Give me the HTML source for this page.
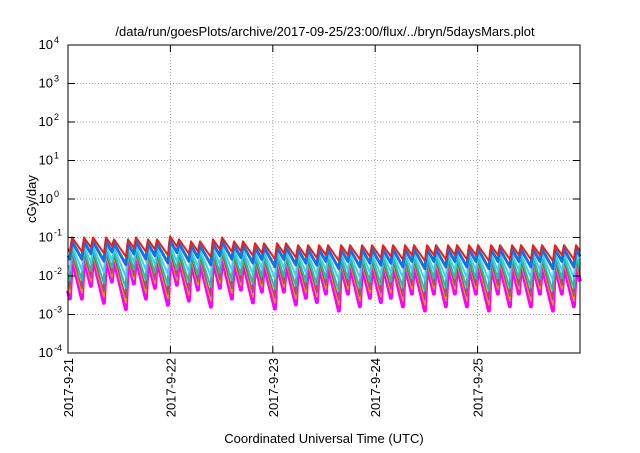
<!DOCTYPE html>
<html><head><meta charset="utf-8"><style>
body{margin:0;background:#fff}
svg{font-family:"Liberation Sans",sans-serif}
</style></head><body>
<svg id="c" width="640" height="448" viewBox="0 0 640 448" xmlns="http://www.w3.org/2000/svg">
<rect width="640" height="448" fill="#fff"/>
<text x="325" y="36" font-size="13" text-anchor="middle">/data/run/goesPlots/archive/2017-09-25/23:00/flux/../bryn/5daysMars.plot</text>
<text transform="translate(36,199) rotate(-90)" font-size="13" text-anchor="middle">cGy/day</text>
<text x="324" y="443" font-size="13" text-anchor="middle">Coordinated Universal Time (UTC)</text>
<g id="grid"></g><g id="series"></g><g id="axes"></g>
</svg>
<script>
const peakX = [72,84,93,106,114,128,136,148,157,170,179,191,200,213,222,234,243,255,264,277,286,298,308,319,328,341,350,362,372,383,393,405,414,427,436,448,457,469,478,491,500,512,521,533,542,555,564,576];
const peakLevel = [-1.0,-1.0,-1.0,-1.0,-1.05,-1.05,-1.0,-1.05,-1.05,-0.97,-1.05,-1.1,-1.1,-1.05,-1.0,-1.1,-1.1,-1.15,-1.15,-1.15,-1.15,-1.2,-1.2,-1.2,-1.2,-1.2,-1.2,-1.2,-1.2,-1.2,-1.2,-1.2,-1.2,-1.2,-1.2,-1.2,-1.2,-1.2,-1.2,-1.2,-1.2,-1.2,-1.2,-1.2,-1.2,-1.2,-1.2,-1.2];
const seriesNames = ['magenta','orange','brown','teal','cyan','blue','red'];
const seriesColors = ['#ff00ff','#e6a000','#a0526a','#20c0a0','#40d0f0','#1a6fe0','#e8201a'];
const seriesWidths = [4,1.5,1.5,2,2,3,2];
const seriesOffset = [-0.5,-0.45,-0.4,-0.32,-0.22,-0.1,0];
const seriesRate = [0.47,0.43,0.4,0.34,0.27,0.2,0.16];
const yTicks = [-4,-3,-2,-1,0,1,2,3,4];
const xTickLabels = ['2017-9-21','2017-9-22','2017-9-23','2017-9-24','2017-9-25'];

const X0=68,X1=580,Y0=353,Y1=45;
const hourOfPx = px => (px-X0)/(X1-X0)*120;
const xs = h => X0 + h/120*(X1-X0);
const ys = l => Y0 - (l+4)/8*(Y0-Y1);
const NS='http://www.w3.org/2000/svg';
function mk(t,a,p){const e=document.createElementNS(NS,t);for(const k in a)e.setAttribute(k,a[k]);p.appendChild(e);return e;}
const G=document.getElementById('grid'),S=document.getElementById('series'),A=document.getElementById('axes');
yTicks.forEach((v,i)=>{
  if(i>0&&i<yTicks.length-1){const l=mk('line',{x1:X0,x2:X1,y1:ys(v),y2:ys(v),stroke:'#aaa','stroke-dasharray':'1,2'},G);
  
  }
  mk('line',{x1:X0,x2:X0+7,y1:ys(v),y2:ys(v),stroke:'#000'},A);
  mk('line',{x1:X1-7,x2:X1,y1:ys(v),y2:ys(v),stroke:'#000'},A);
  const tx=mk('text',{x:X0-15,y:ys(v)+4,'font-size':13,'text-anchor':'end'},A);
  
  
  tx.textContent='10';
  const sp=mk('tspan',{dy:-6,'font-size':9},tx);sp.textContent=String(v);
  sp.setAttribute('x',X0-14);sp.setAttribute('text-anchor','start');
});
xTickLabels.forEach((lab,i)=>{
  const x=xs(i*24);
  if(i>0){const l=mk('line',{x1:x,x2:x,y1:Y1,y2:Y0,stroke:'#aaa','stroke-dasharray':'1,2'},G);
  
  }
  mk('line',{x1:x,x2:x,y1:Y0,y2:Y0-7,stroke:'#000'},A);
  mk('line',{x1:x,x2:x,y1:Y1,y2:Y1+7,stroke:'#000'},A);
  const t=mk('text',{transform:`translate(${x+5},${Y0+5}) rotate(-90)`,'font-size':13,'text-anchor':'end'},A);
  
  
  t.textContent=lab;
});
seriesNames.forEach((nm,s)=>{
  let d='';
  const ph=peakX.map(hourOfPx);
  const prevPeakH=ph[0]-2.8, prevLvl=peakLevel[0];
  const v0=prevLvl+seriesOffset[s]-seriesRate[s]*(0-prevPeakH);
  d+=`M${xs(0).toFixed(1)},${ys(v0).toFixed(1)}`;
  for(let i=0;i<ph.length;i++){
    const pv=peakLevel[i]+seriesOffset[s];
    const baseH=i>0?ph[i-1]:prevPeakH, baseL=i>0?peakLevel[i-1]:prevLvl;
    const tv=baseL+seriesOffset[s]-seriesRate[s]*(ph[i]-0.5-baseH);
    d+=`L${xs(ph[i]-0.5).toFixed(1)},${ys(tv).toFixed(1)}`;
    d+=`L${xs(ph[i]).toFixed(1)},${ys(pv).toFixed(1)}`;
  }
  const last=ph.length-1;
  const ev=peakLevel[last]+seriesOffset[s]-seriesRate[s]*(120-ph[last]);
  d+=`L${xs(120).toFixed(1)},${ys(ev).toFixed(1)}`;
  const p=mk('path',{d,fill:'none',stroke:seriesColors[s],'stroke-width':seriesWidths[s],'stroke-linejoin':'round'},S);
  
  
});
const fr=mk('rect',{x:X0,y:Y1,width:X1-X0,height:Y0-Y1,fill:'none',stroke:'#000'},A);


</script>
</body></html>
